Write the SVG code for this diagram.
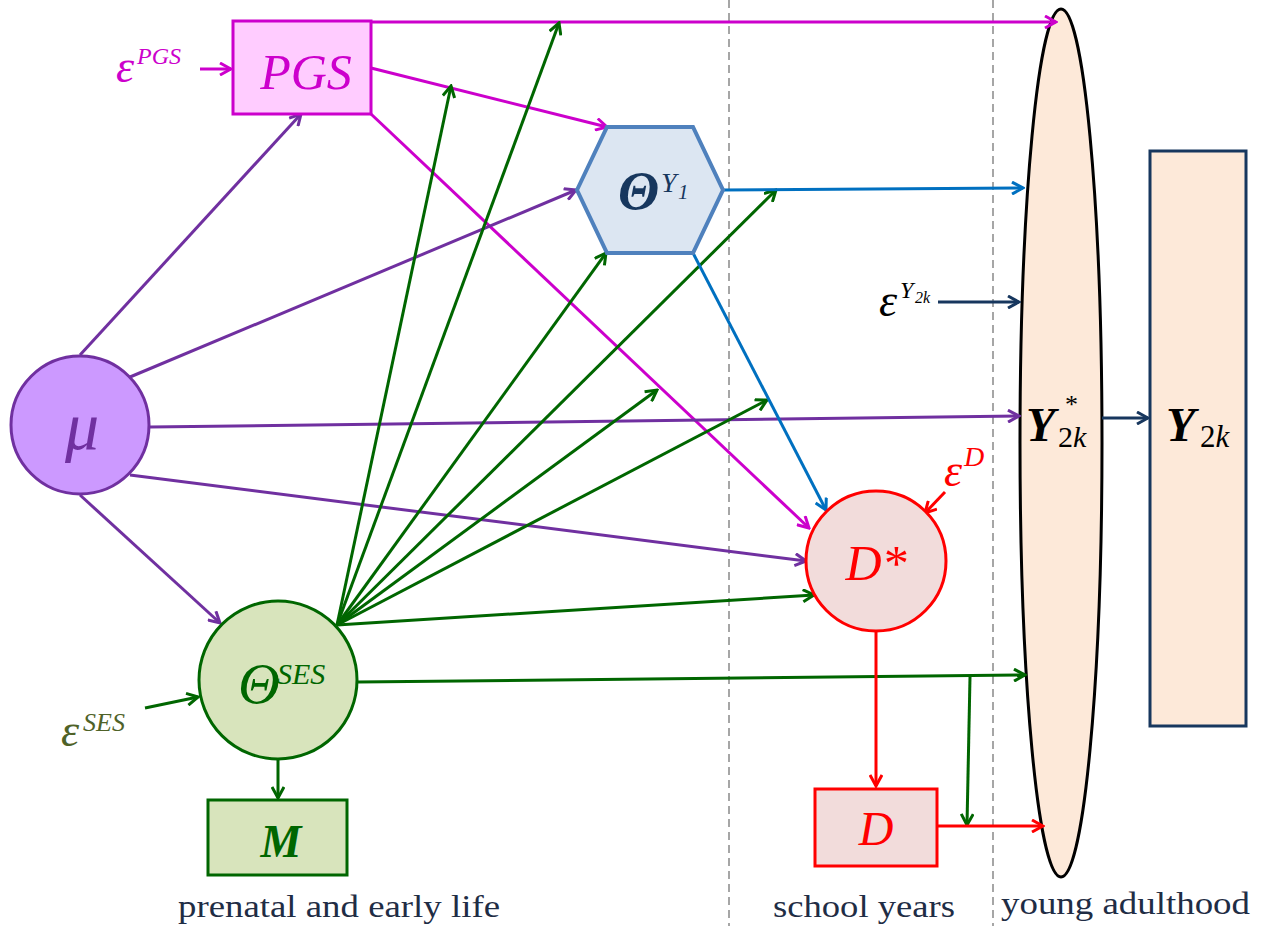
<svg xmlns="http://www.w3.org/2000/svg" width="1263" height="926" viewBox="0 0 1263 926">
<style>
.ln{fill:none;stroke-width:3}
.mg{stroke:#cc00cc}.pu{stroke:#7030a0}.gr{stroke:#006600}.bl{stroke:#0070c0}.rd{stroke:#ff0000}.nv{stroke:#17375e}
.it{font-family:"Liberation Serif",serif;font-style:italic}
.lab{font-family:"Liberation Serif",serif;font-size:32px;fill:#1f2d45}
</style>
<defs>
<marker id="am" viewBox="0 0 14 14" refX="12" refY="7" markerWidth="14" markerHeight="14" orient="auto" markerUnits="userSpaceOnUse"><path d="M1,1 L12,7 L1,13" fill="none" stroke="#cc00cc" stroke-width="3"/></marker>
<marker id="ap" viewBox="0 0 14 14" refX="12" refY="7" markerWidth="14" markerHeight="14" orient="auto" markerUnits="userSpaceOnUse"><path d="M1,1 L12,7 L1,13" fill="none" stroke="#7030a0" stroke-width="3"/></marker>
<marker id="ag" viewBox="0 0 14 14" refX="12" refY="7" markerWidth="14" markerHeight="14" orient="auto" markerUnits="userSpaceOnUse"><path d="M1,1 L12,7 L1,13" fill="none" stroke="#006600" stroke-width="3"/></marker>
<marker id="ab" viewBox="0 0 14 14" refX="12" refY="7" markerWidth="14" markerHeight="14" orient="auto" markerUnits="userSpaceOnUse"><path d="M1,1 L12,7 L1,13" fill="none" stroke="#0070c0" stroke-width="3"/></marker>
<marker id="ar" viewBox="0 0 14 14" refX="12" refY="7" markerWidth="14" markerHeight="14" orient="auto" markerUnits="userSpaceOnUse"><path d="M1,1 L12,7 L1,13" fill="none" stroke="#ff0000" stroke-width="3"/></marker>
<marker id="an" viewBox="0 0 14 14" refX="12" refY="7" markerWidth="14" markerHeight="14" orient="auto" markerUnits="userSpaceOnUse"><path d="M1,1 L12,7 L1,13" fill="none" stroke="#17375e" stroke-width="3"/></marker>
</defs>
<rect width="1263" height="926" fill="#ffffff"/>
<g id="dividers" stroke="#a6a6a6" stroke-width="2" stroke-dasharray="8,5">
<line x1="729" y1="0" x2="729" y2="926"/>
<line x1="993" y1="0" x2="993" y2="926"/>
</g>
<g id="Ystar">
<ellipse cx="1061" cy="443" rx="41" ry="434" fill="#fde9d9" stroke="#000000" stroke-width="3"/>
<text x="1026" y="441" font-family="Liberation Serif,serif" fill="#000"><tspan font-style="italic" font-weight="bold" font-size="48">Y</tspan><tspan x="1065" y="413" font-size="26">*</tspan><tspan x="1058" y="447" font-size="30">2<tspan font-style="italic">k</tspan></tspan></text>
</g>
<g id="Y2k">
<rect x="1150" y="151" width="96" height="575" fill="#fde9d9" stroke="#17375e" stroke-width="3"/>
<text x="1166" y="441" font-family="Liberation Serif,serif" fill="#000"><tspan font-style="italic" font-weight="bold" font-size="48">Y</tspan><tspan x="1200" y="447" font-size="31">2<tspan font-style="italic">k</tspan></tspan></text>
</g>
<g id="connectors">
<line class="ln mg" x1="371" y1="22" x2="1056" y2="22" marker-end="url(#am)"/>
<line class="ln mg" x1="371" y1="68" x2="607" y2="127" marker-end="url(#am)"/>
<line class="ln mg" x1="371" y1="114" x2="809" y2="528" marker-end="url(#am)"/>
<line class="ln mg" x1="200" y1="69" x2="231" y2="69" marker-end="url(#am)"/>
<line class="ln pu" x1="80" y1="355" x2="301" y2="114" marker-end="url(#ap)"/>
<line class="ln pu" x1="130" y1="377" x2="576" y2="190" marker-end="url(#ap)"/>
<line class="ln pu" x1="150" y1="427" x2="1019" y2="416" marker-end="url(#ap)"/>
<line class="ln pu" x1="130" y1="475" x2="806" y2="561" marker-end="url(#ap)"/>
<line class="ln pu" x1="80" y1="495" x2="220" y2="623" marker-end="url(#ap)"/>
<line class="ln gr" x1="337" y1="625" x2="451" y2="86" marker-end="url(#ag)"/>
<line class="ln gr" x1="337" y1="625" x2="559" y2="23" marker-end="url(#ag)"/>
<line class="ln gr" x1="337" y1="625" x2="606" y2="253" marker-end="url(#ag)"/>
<line class="ln gr" x1="337" y1="625" x2="776" y2="190" marker-end="url(#ag)"/>
<line class="ln gr" x1="337" y1="625" x2="657" y2="390" marker-end="url(#ag)"/>
<line class="ln gr" x1="337" y1="625" x2="767" y2="400" marker-end="url(#ag)"/>
<line class="ln gr" x1="337" y1="625" x2="814" y2="595" marker-end="url(#ag)"/>
<line class="ln gr" x1="358" y1="682" x2="1025" y2="675" marker-end="url(#ag)"/>
<line class="ln gr" x1="970" y1="677" x2="967" y2="825" marker-end="url(#ag)"/>
<line class="ln gr" x1="278" y1="760" x2="278" y2="798" marker-end="url(#ag)"/>
<line class="ln gr" x1="145" y1="708" x2="198" y2="697" marker-end="url(#ag)"/>
<line class="ln bl" x1="723" y1="190" x2="1023" y2="188" marker-end="url(#ab)"/>
<line class="ln bl" x1="693" y1="253" x2="826" y2="510" marker-end="url(#ab)"/>
<line class="ln rd" x1="876" y1="631" x2="876" y2="786" marker-end="url(#ar)"/>
<line class="ln rd" x1="937" y1="826" x2="1043" y2="826" marker-end="url(#ar)"/>
<line class="ln rd" x1="945" y1="492" x2="925" y2="513" marker-end="url(#ar)"/>
<line class="ln nv" x1="938" y1="302" x2="1019" y2="302" marker-end="url(#an)"/>
<line class="ln nv" x1="1102" y1="418" x2="1148" y2="418" marker-end="url(#an)"/>
</g>
<g id="PGS">
<rect x="233" y="21" width="138" height="93" fill="#ffccff" stroke="#cc00cc" stroke-width="3"/>
<text x="306" y="89" text-anchor="middle" class="it" font-size="50" fill="#cc00cc">PGS</text>
</g>
<g id="epsPGS">
<text x="116" y="82" class="it" font-size="46" fill="#cc00cc">ε</text>
<text x="137" y="64" class="it" font-size="24" fill="#cc00cc">PGS</text>
</g>
<g id="mu">
<circle cx="80" cy="425" r="69" fill="#cc99ff" stroke="#7030a0" stroke-width="3"/>
<text x="82" y="449" text-anchor="middle" class="it" font-size="68" fill="#7030a0">μ</text>
</g>
<g id="ThetaY1">
<polygon points="577,190 607,127 693,127 723,190 693,253 607,253" fill="#dce6f2" stroke="#4f81bd" stroke-width="4"/>
<text x="618" y="209" class="it" font-weight="bold" font-size="54" fill="#17375e">Θ</text>
<text x="661" y="192" class="it" font-size="28" fill="#17375e">Y</text>
<text x="678" y="199" class="it" font-size="21" fill="#17375e">1</text>
</g>
<g id="ThetaSES">
<circle cx="278" cy="680" r="79" fill="#d8e4bc" stroke="#006600" stroke-width="3"/>
<text x="238" y="703" class="it" font-size="58" fill="#006600">Θ</text>
<text x="277" y="684" class="it" font-size="30" fill="#006600">SES</text>
</g>
<g id="epsSES">
<text x="61" y="746" class="it" font-size="46" fill="#4f6228">ε</text>
<text x="83" y="731" class="it" font-size="26" fill="#4f6228">SES</text>
</g>
<g id="Mbox">
<rect x="208" y="800" width="139" height="75" fill="#d8e4bc" stroke="#006600" stroke-width="3"/>
<text x="281" y="857" text-anchor="middle" class="it" font-weight="bold" font-size="46" fill="#006600">M</text>
</g>
<g id="Dstar">
<circle cx="876" cy="561" r="70" fill="#f2dcdb" stroke="#ff0000" stroke-width="3"/>
<text x="876" y="580" text-anchor="middle" class="it" font-size="50" fill="#ff0000">D*</text>
</g>
<g id="epsD">
<text x="944" y="486" class="it" font-size="46" fill="#ff0000">ε</text>
<text x="964" y="466" class="it" font-size="28" fill="#ff0000">D</text>
</g>
<g id="Dobs">
<rect x="815" y="789" width="122" height="77" fill="#f2dcdb" stroke="#ff0000" stroke-width="3"/>
<text x="876" y="845" text-anchor="middle" class="it" font-size="48" fill="#ff0000">D</text>
</g>
<g id="epsY2k">
<text x="879" y="316" class="it" font-size="46" fill="#000">ε</text>
<text x="900" y="298" class="it" font-size="24" fill="#000">Y</text>
<text x="915" y="303" class="it" font-size="16" fill="#000">2k</text>
</g>
<g id="periods">
<text x="178" y="917" class="lab" textLength="322" lengthAdjust="spacingAndGlyphs">prenatal and early life</text>
<text x="773" y="917" class="lab" textLength="182" lengthAdjust="spacingAndGlyphs">school years</text>
<text x="1001" y="914" class="lab" textLength="249" lengthAdjust="spacingAndGlyphs">young adulthood</text>
</g>
</svg>
